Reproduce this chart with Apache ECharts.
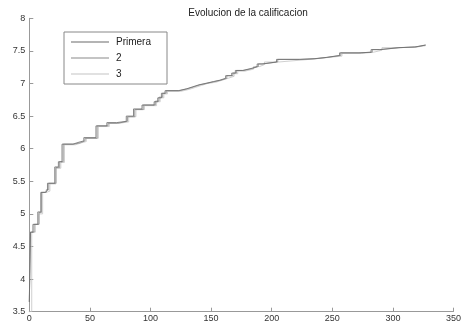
<!DOCTYPE html>
<html><head><meta charset="utf-8">
<script src="https://cdn.jsdelivr.net/npm/echarts@6/dist/echarts.min.js"></script>
<style>html,body{margin:0;padding:0;background:#fff}#c{width:464px;height:327px}</style>
</head><body><div id="c"></div>
<script>
var title = "Evolucion de la calificacion";
var seriesNames = ["Primera", "2", "3"];
var xTicks = [0, 50, 100, 150, 200, 250, 300, 350];
var yTicks = [3.5, 4, 4.5, 5, 5.5, 6, 6.5, 7, 7.5, 8];

// step change points: iteration and value from that iteration on
var x1 = [0, 1, 3, 7, 9.5, 13, 15, 21, 24, 27, 36, 41, 45, 55, 64, 72, 80, 86, 93, 103, 106, 109, 112, 123, 130, 135, 140, 145, 152, 157, 162, 167, 170, 176, 183, 188, 192, 204, 223, 235, 245, 256, 272, 282, 289, 305, 318, 327];
var y1 = [3.65, 4.72, 4.84, 5.03, 5.33, 5.36, 5.47, 5.72, 5.80, 6.07, 6.10, 6.12, 6.17, 6.35, 6.40, 6.42, 6.50, 6.61, 6.67, 6.72, 6.78, 6.85, 6.89, 6.92, 6.95, 6.98, 7.00, 7.03, 7.05, 7.08, 7.12, 7.16, 7.20, 7.23, 7.26, 7.30, 7.33, 7.37, 7.38, 7.40, 7.43, 7.47, 7.48, 7.52, 7.55, 7.56, 7.59, 7.59];

var x2 = [0, 1, 4, 8, 10, 14, 16, 22, 25, 28, 37, 42, 46, 56, 65, 73, 81, 87, 94, 104, 107, 110, 113, 124, 131, 136, 141, 146, 153, 158, 163, 168, 171, 177, 184, 189, 193, 205, 224, 236, 246, 257, 273, 283, 290, 306, 319, 327];
var y2 = [3.65, 4.72, 4.84, 5.02, 5.33, 5.37, 5.47, 5.71, 5.80, 6.07, 6.09, 6.12, 6.16, 6.35, 6.39, 6.42, 6.49, 6.60, 6.67, 6.73, 6.79, 6.85, 6.89, 6.92, 6.95, 6.98, 7.00, 7.03, 7.05, 7.08, 7.12, 7.16, 7.20, 7.23, 7.26, 7.30, 7.33, 7.37, 7.38, 7.40, 7.43, 7.47, 7.48, 7.52, 7.55, 7.56, 7.59, 7.59];

var x3 = [0, 2, 5, 8, 11, 14, 17, 22, 26, 29, 38, 43, 47, 57, 66, 74, 82, 88, 95, 105, 108, 111, 114, 125, 132, 137, 142, 147, 154, 159, 164, 169, 172, 178, 185, 190, 194, 206, 225, 237, 247, 258, 274, 284, 291, 307, 320, 327];
var y3 = [3.50, 4.72, 4.84, 5.00, 5.33, 5.35, 5.46, 5.70, 5.79, 6.06, 6.09, 6.11, 6.16, 6.34, 6.39, 6.41, 6.49, 6.60, 6.66, 6.72, 6.78, 6.84, 6.88, 6.91, 6.94, 6.97, 7.00, 7.02, 7.05, 7.08, 7.11, 7.15, 7.19, 7.22, 7.26, 7.29, 7.33, 7.36, 7.38, 7.40, 7.42, 7.46, 7.48, 7.51, 7.55, 7.56, 7.58, 7.58];

var colors = ["#6a6a6a", "#8a8a8a", "#c4c4c4"];

function pairs(xs, ys) { return xs.map(function (x, i) { return [x, ys[i]]; }); }
var data = [pairs(x1, y1), pairs(x2, y2), pairs(x3, y3)];

var chart = echarts.init(document.getElementById('c'), null, {renderer: 'canvas'});
var font = "'Liberation Sans', Arial, sans-serif";
chart.setOption({
  animation: false,
  backgroundColor: '#fff',
  title: {
    text: title, left: 243, top: 3, textAlign: 'center',
    textStyle: {fontSize: 10, fontWeight: 'normal', color: '#222', fontFamily: font}
  },
  legend: {
    data: seriesNames.map(function (n) { return {name: n, icon: 'rect'}; }),
    orient: 'vertical', left: 64, top: 32,
    padding: [4, 16, 4, 7], itemWidth: 38, itemHeight: 1, itemGap: 4,
    borderColor: '#888', borderWidth: 1, backgroundColor: '#fff',
    textStyle: {fontSize: 10, color: '#222', fontFamily: font, lineHeight: 12, padding: [0, 0, 0, 2]}
  },
  grid: {left: 29.3, right: 6.7, top: 18.3, bottom: 15.3},
  xAxis: {
    type: 'value', min: xTicks[0], max: xTicks[xTicks.length - 1], interval: 50,
    axisLine: {show: true, lineStyle: {color: '#999'}},
    axisTick: {show: true, inside: true, length: 4, lineStyle: {color: '#999'}},
    axisLabel: {fontSize: 9, color: '#333', margin: 2, fontFamily: font},
    splitLine: {show: false}
  },
  yAxis: {
    type: 'value', min: yTicks[0], max: yTicks[yTicks.length - 1], interval: 0.5,
    axisLine: {show: true, lineStyle: {color: '#999'}},
    axisTick: {show: true, inside: true, length: 4, lineStyle: {color: '#999'}},
    axisLabel: {fontSize: 9, color: '#333', margin: 4, fontFamily: font},
    splitLine: {show: false}
  },
  series: seriesNames.map(function (n, i) {
    return {
      name: n, type: 'line', step: 'end', data: data[i], symbol: 'none',
      lineStyle: {width: 0.8, color: colors[i]}, itemStyle: {color: colors[i]},
      z: 3 - i
    };
  })
});
</script></body></html>
